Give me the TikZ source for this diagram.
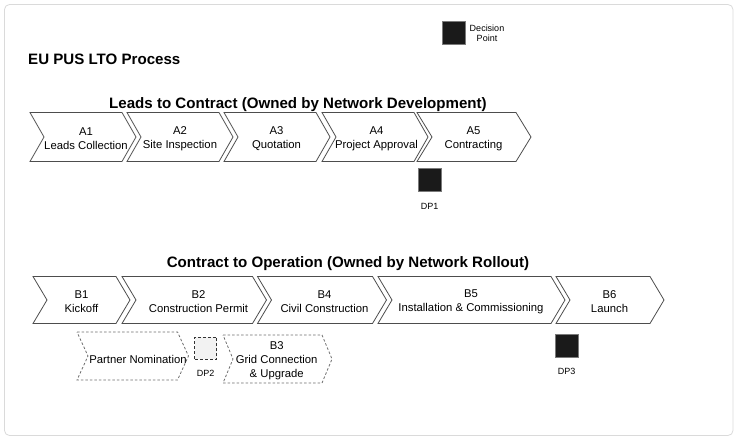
\documentclass[tikz,border=0pt]{standalone}
\usepackage{fontspec}
\setmainfont{Liberation Sans}
\definecolor{framegray}{HTML}{DADADA}
\definecolor{chevgray}{HTML}{4D4D4D}
\definecolor{dashgray}{HTML}{6E6E6E}
\definecolor{dpfill}{HTML}{1A1A1A}
\definecolor{dpedge}{HTML}{7A7A7A}
\definecolor{dp2fill}{HTML}{F2F2F2}
\newcommand\chevshape[6]{%
  \draw[#1] (#2,#4) -- ({#3-#6},#4) -- (#3,{(#4+#5)/2}) -- ({#3-#6},#5) -- (#2,#5) -- ({#2+#6},{(#4+#5)/2}) -- cycle;}
\begin{document}
\begin{tikzpicture}[x=1pt,y=-1pt,
  chev/.style={draw=chevgray, fill=white, line width=0.8pt, line join=miter},
  dchev/.style={draw=dashgray, fill=white, line width=0.8pt, dash pattern=on 2.5pt off 2pt},
  lbl/.style={align=center, font=\fontsize{11.3}{13.8}\selectfont, inner sep=0pt, yshift=-1.5pt},
  ttl/.style={font=\bfseries\fontsize{15.1}{18}\selectfont, inner sep=0pt, yshift=-1.5pt},
  small/.style={font=\fontsize{9}{10}\selectfont, inner sep=0pt, align=center, yshift=-0.8pt},
  dp/.style={draw=dpedge, fill=dpfill, line width=0.8pt, minimum width=23pt, minimum height=23pt, inner sep=0pt},
  dpdash/.style={draw=black!80, fill=dp2fill, line width=1pt, dash pattern=on 3pt off 2pt, minimum width=22pt, minimum height=22pt, inner sep=0pt},
]
\useasboundingbox (0,0) rectangle (744,444);
\draw[framegray, line width=0.8pt, rounded corners=5pt] (4.5,4.5) rectangle (733,435.5);

% titles
\node[ttl, anchor=west] (main) at (28,58) {EU PUS LTO Process};
\node[ttl] (titleA) at (298,103) {Leads to Contract (Owned by Network Development)};
\node[ttl] (titleB) at (348,262) {Contract to Operation (Owned by Network Rollout)};

% legend
\node[dp] (legsq) at (453.5,32.5) {};
\node[small] (legtxt) at (487,32) {Decision\\Point};

% row A
\chevshape{chev}{30}{136}{112.5}{161.5}{14}
\chevshape{chev}{127}{233}{112.5}{161.5}{14}
\chevshape{chev}{224}{330}{112.5}{161.5}{14}
\chevshape{chev}{322}{428}{112.5}{161.5}{14}
\chevshape{chev}{417}{531}{112.5}{161.5}{15}
\node[lbl] (A1) at (86,137) {A1\\Leads Collection};
\node[lbl] (A2) at (180,137) {A2\\Site Inspection};
\node[lbl] (A3) at (276.5,137) {A3\\Quotation};
\node[lbl] (A4) at (376.5,137) {A4\\Project Approval};
\node[lbl] (A5) at (473.5,137) {A5\\Contracting};

\node[dp] (dp1) at (430,180) {};
\node[small] (dp1l) at (429.5,206) {DP1};

% row B
\chevshape{chev}{33}{130}{276.5}{323.5}{14}
\chevshape{chev}{122}{266.5}{276.5}{323.5}{14}
\chevshape{chev}{257.5}{386.5}{276.5}{323.5}{14}
\chevshape{chev}{378}{565}{276.5}{323.5}{14}
\chevshape{chev}{556}{664}{276.5}{323.5}{14}
\node[lbl] (B1) at (81.5,300) {B1\\Kickoff};
\node[lbl] (B2) at (198.5,300) {B2\\Construction Permit};
\node[lbl] (B4) at (324.5,300) {B4\\Civil Construction};
\node[lbl] (B5) at (471,300) {B5\\Installation \& Commissioning};
\node[lbl] (B6) at (609.5,300) {B6\\Launch};

% dashed row
\chevshape{dchev}{77}{188.5}{332}{380}{11}
\chevshape{dchev}{223}{332}{335}{383}{10}
\node[lbl] (pn) at (138,357.5) {Partner Nomination};
\node[lbl] (B3) at (276.7,359.5) {B3\\Grid Connection\\\& Upgrade};
\node[dpdash] (dp2) at (205.8,348) {};
\node[small] (dp2l) at (205.7,372.5) {DP2};

\node[dp] (dp3) at (566.5,345.5) {};
\node[small] (dp3l) at (566.5,370.5) {DP3};
\end{tikzpicture}
\end{document}
